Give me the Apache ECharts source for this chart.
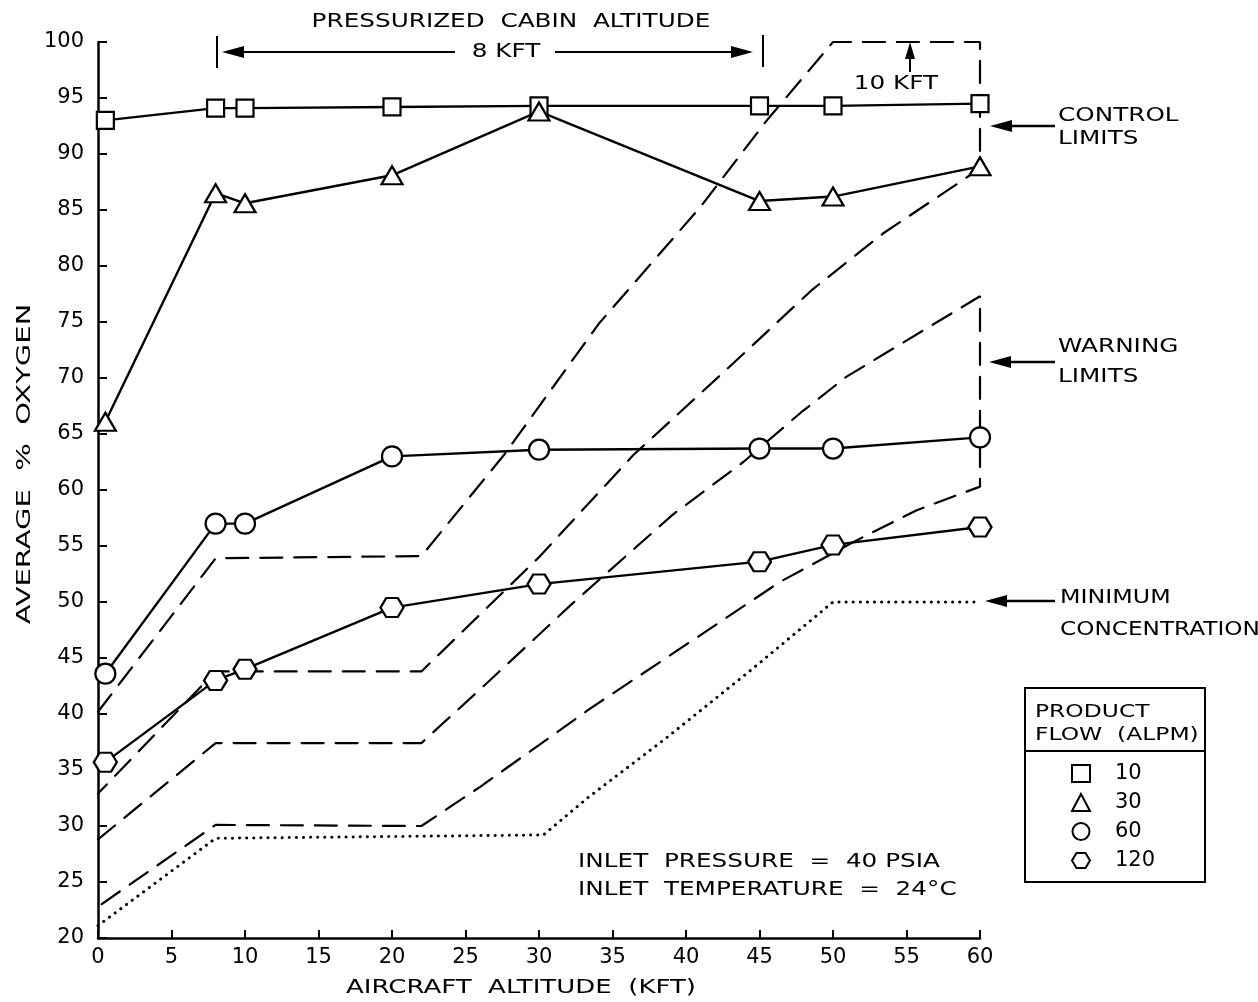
<!DOCTYPE html>
<html>
<head>
<meta charset="utf-8">
<script src="https://cdn.jsdelivr.net/npm/echarts@6/dist/echarts.min.js"></script>
<style>
html,body{margin:0;padding:0;background:#fff;}
#chart{width:1258px;height:1002px;}
</style>
</head>
<body>
<div id="chart"></div>
<script>
// ---- data ----
const altitude = [0.5, 8, 10, 20, 30, 45, 50, 60];
const flow10  = [93.0, 94.1, 94.1, 94.2, 94.3, 94.3, 94.3, 94.5];
const flow30  = [66.1, 86.5, 85.6, 88.1, 93.8, 85.8, 86.2, 88.9];
const flow60  = [43.6, 57.0, 57.0, 63.0, 63.6, 63.7, 63.7, 64.7];
const flow120 = [35.7, 43.0, 44.0, 49.5, 51.6, 53.6, 55.1, 56.7];

const ctrlUpperX = [0, 8, 22, 27.6, 34.1, 41, 45.5, 50, 60];
const ctrlUpperY = [40.2, 53.9, 54.1, 63.1, 74.9, 85.3, 93.0, 100, 100];
const ctrlLowerX = [0, 8, 22, 30, 36.4, 43.2, 48.6, 53.4, 60];
const ctrlLowerY = [32.9, 43.8, 43.8, 54.0, 63.1, 71.3, 77.9, 82.9, 88.7];

const warnUpperX = [0, 8, 22, 26.9, 32.3, 39.1, 43.9, 47.8, 50.9, 60];
const warnUpperY = [28.8, 37.4, 37.4, 43.3, 49.9, 57.8, 62.5, 66.9, 70.1, 77.3];
const warnLowerX = [0, 8, 22, 26, 33.5, 40.7, 46.4, 51.6, 55.7, 60];
const warnLowerY = [22.8, 30.1, 30.0, 33.5, 40.5, 46.8, 51.8, 55.5, 58.2, 60.3];

const minConcX = [0, 8, 30.3, 33.3, 38.7, 44.4, 50, 60];
const minConcY = [21.1, 28.9, 29.2, 32.5, 37.9, 43.9, 50, 50];

const flowNames = ['10', '30', '60', '120'];
const xTicks = {min: 0, max: 60, interval: 5};
const yTicks = {min: 20, max: 100, interval: 5};

// ---- helpers ----
const pairs = (xs, ys) => xs.map((x, i) => [x, ys[i]]);
const band = (ux, uy, lx, ly) => pairs(ux, uy).concat(pairs(lx, ly).reverse());

const FONT = 'DejaVu Sans';
const HEX = 'path://M0,5 L3,0 L9,0 L12,5 L9,10 L3,10 Z';
const SX = 1.3;

function flowSeries(name, ys, symbol, size) {
  return {
    name: name, type: 'line', data: pairs(altitude, ys),
    symbol: symbol, symbolSize: size,
    showAllSymbol: true, z: 5,
    lineStyle: {color: '#000', width: 2.4},
    itemStyle: {color: '#fff', borderColor: '#000', borderWidth: 2.2},
    emphasis: {disabled: true}
  };
}
function limitSeries(name, data, dash, width) {
  return {
    name: name, type: 'line', data: data, symbol: 'none', z: 3,
    lineStyle: {color: '#000', width: width, type: dash, cap: 'round'},
    emphasis: {disabled: true}
  };
}

const chart = echarts.init(document.getElementById('chart'), null, {renderer: 'canvas'});

const txt = (x, y, s, size, align, extra) => Object.assign({
  type: 'text', x: x, y: y, silent: true, scaleX: SX,
  style: {text: s, font: (size || 19) + 'px "' + FONT + '"', fill: '#000',
          textAlign: align || 'left', textVerticalAlign: 'middle'}
}, extra || {});
const ln = (x1, y1, x2, y2, w) => ({
  type: 'line', silent: true, shape: {x1: x1, y1: y1, x2: x2, y2: y2},
  style: {stroke: '#000', lineWidth: w || 2}
});
const head = (pts) => ({type: 'polygon', silent: true, shape: {points: pts}, style: {fill: '#000'}});

const legendItem = (name, icon) => ({name: name, icon: icon,
  itemStyle: {color: '#fff', borderColor: '#000', borderWidth: 2}});

const option = {
  backgroundColor: '#fff',
  animation: false,
  grid: {left: 98, right: 278, top: 42, bottom: 64, containLabel: false},
  xAxis: {
    type: 'value', min: xTicks.min, max: xTicks.max, interval: xTicks.interval,
    splitLine: {show: false},
    axisLine: {lineStyle: {color: '#000', width: 2.5}},
    axisTick: {inside: true, length: 8, lineStyle: {color: '#000', width: 2}},
    axisLabel: {color: '#000', fontSize: 21, fontFamily: FONT, margin: 9}
  },
  yAxis: {
    type: 'value', min: yTicks.min, max: yTicks.max, interval: yTicks.interval,
    splitLine: {show: false},
    axisLine: {lineStyle: {color: '#000', width: 2.5}},
    axisTick: {inside: true, length: 9, lineStyle: {color: '#000', width: 2}},
    axisLabel: {color: '#000', fontSize: 21, fontFamily: FONT, margin: 14}
  },
  legend: {
    orient: 'vertical', left: 1066, top: 758, itemWidth: 18, itemHeight: 17, itemGap: 8,
    selectedMode: false,
    data: [legendItem('10', 'rect'), legendItem('30', 'triangle'),
           legendItem('60', 'circle'), legendItem('120', HEX)],
    lineStyle: {opacity: 0},
    textStyle: {color: '#000', fontSize: 21, fontFamily: FONT, padding: [0, 0, 0, 20]}
  },
  series: [
    flowSeries(flowNames[0], flow10, 'rect', 17),
    flowSeries(flowNames[1], flow30, 'triangle', [21, 18]),
    flowSeries(flowNames[2], flow60, 'circle', 20),
    flowSeries(flowNames[3], flow120, HEX, [23, 19]),
    limitSeries('Control limits', band(ctrlUpperX, ctrlUpperY, ctrlLowerX, ctrlLowerY), [22, 12], 2.2),
    limitSeries('Warning limits', band(warnUpperX, warnUpperY, warnLowerX, warnLowerY), [22, 12], 2.2),
    limitSeries('Minimum concentration', pairs(minConcX, minConcY), [0.1, 7], 3)
  ],
  graphic: [
    txt(511, 22, 'PRESSURIZED  CABIN  ALTITUDE', 19, 'center'),
    ln(217, 36, 217, 68, 2), ln(763, 35, 763, 67, 2),
    ln(228, 52, 455, 52, 2.2), head([[222, 52], [244, 46], [244, 58]]),
    txt(506, 52, '8 KFT', 19, 'center'),
    ln(555, 52, 745, 52, 2.2), head([[753, 52], [731, 46], [731, 58]]),
    txt(896, 84, '10 KFT', 19, 'center'),
    ln(910, 72, 910, 50, 2), head([[910, 42], [905, 59], [915, 59]]),
    txt(1058, 116, 'CONTROL', 19, 'left'), txt(1058, 139, 'LIMITS', 19, 'left'),
    ln(1055, 126, 1000, 126, 2.4), head([[990, 126], [1012, 120], [1012, 132]]),
    txt(1058, 347, 'WARNING', 19, 'left'), txt(1058, 377, 'LIMITS', 19, 'left'),
    ln(1055, 362, 1000, 362, 2.4), head([[989, 362], [1011, 356], [1011, 368]]),
    txt(1060, 598, 'MINIMUM', 19, 'left', {scaleX: 1.25}),
    txt(1060, 630, 'CONCENTRATION', 19, 'left', {scaleX: 1.22}),
    ln(1055, 601, 995, 601, 2.4), head([[985, 601], [1007, 595], [1007, 607]]),
    txt(578, 862, 'INLET  PRESSURE  =  40 PSIA', 19, 'left'),
    txt(578, 890, 'INLET  TEMPERATURE  =  24°C', 19, 'left'),
    {type: 'rect', silent: true, shape: {x: 1025, y: 688, width: 180, height: 194},
     style: {fill: 'none', stroke: '#000', lineWidth: 2}},
    ln(1025, 751, 1205, 751, 2),
    txt(1035, 712, 'PRODUCT', 18, 'left'),
    txt(1035, 735, 'FLOW  (ALPM)', 18, 'left'),
    txt(521, 988, 'AIRCRAFT  ALTITUDE  (KFT)', 20, 'center'),
    txt(25, 464, 'AVERAGE  %  OXYGEN', 20, 'center', {rotation: Math.PI / 2, scaleX: 1.45})
  ]
};
chart.setOption(option);
</script>
</body>
</html>
